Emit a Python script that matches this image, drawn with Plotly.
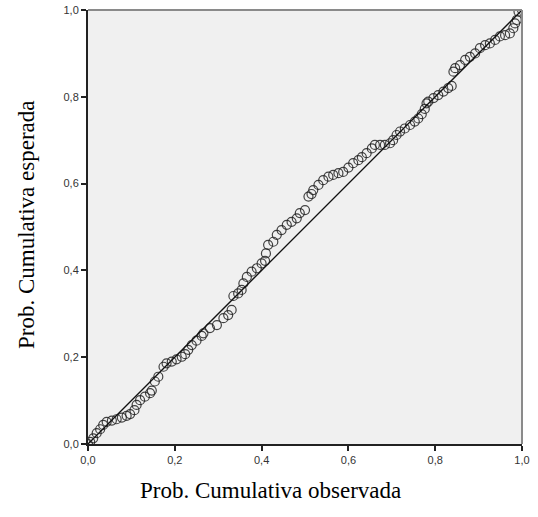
import plotly.graph_objects as go

# P-P plot: observed cumulative probability (x) vs expected cumulative probability (y)
obs = [0.000, 0.005, 0.012, 0.020, 0.028, 0.035, 0.043, 0.055, 0.066, 0.078, 0.089, 0.097,
       0.107, 0.112, 0.120, 0.131, 0.143, 0.147, 0.154, 0.162, 0.174, 0.181, 0.193, 0.204,
       0.216, 0.224, 0.231, 0.239, 0.250, 0.262, 0.266, 0.281, 0.297, 0.312, 0.323, 0.331,
       0.335, 0.346, 0.354, 0.358, 0.366, 0.377, 0.389, 0.400, 0.408, 0.410, 0.415, 0.427,
       0.435, 0.446, 0.458, 0.469, 0.481, 0.488, 0.500, 0.508, 0.515, 0.519, 0.531, 0.542,
       0.554, 0.565, 0.577, 0.588, 0.600, 0.611, 0.623, 0.631, 0.642, 0.654, 0.661, 0.673,
       0.684, 0.696, 0.703, 0.711, 0.719, 0.730, 0.742, 0.753, 0.761, 0.769, 0.776, 0.780,
       0.784, 0.796, 0.807, 0.819, 0.830, 0.838, 0.842, 0.846, 0.857, 0.869, 0.880, 0.892,
       0.903, 0.915, 0.926, 0.938, 0.949, 0.961, 0.972, 0.980, 0.984, 0.988, 0.992, 1.000]
exp = [0.000, 0.005, 0.013, 0.025, 0.034, 0.044, 0.051, 0.054, 0.057, 0.061, 0.065, 0.069,
       0.078, 0.090, 0.101, 0.109, 0.117, 0.123, 0.144, 0.155, 0.178, 0.186, 0.190, 0.195,
       0.201, 0.207, 0.217, 0.228, 0.238, 0.249, 0.255, 0.267, 0.274, 0.290, 0.297, 0.309,
       0.341, 0.347, 0.355, 0.370, 0.385, 0.397, 0.405, 0.416, 0.422, 0.439, 0.459, 0.466,
       0.482, 0.493, 0.505, 0.512, 0.520, 0.532, 0.539, 0.570, 0.576, 0.585, 0.597, 0.608,
       0.616, 0.620, 0.624, 0.627, 0.637, 0.647, 0.654, 0.661, 0.670, 0.681, 0.689, 0.689,
       0.689, 0.693, 0.700, 0.712, 0.720, 0.727, 0.735, 0.743, 0.750, 0.760, 0.772, 0.785,
       0.789, 0.797, 0.804, 0.812, 0.820, 0.825, 0.858, 0.866, 0.873, 0.885, 0.892, 0.900,
       0.912, 0.919, 0.923, 0.931, 0.939, 0.942, 0.946, 0.958, 0.969, 0.977, 0.996, 1.000]

ref_line = [0.0, 1.0]
tick_vals = [0.0, 0.2, 0.4, 0.6, 0.8, 1.0]
tick_text = ["0,0", "0,2", "0,4", "0,6", "0,8", "1,0"]

x_title = "Prob. Cumulativa observada"
y_title = "Prob. Cumulativa esperada"

fig = go.Figure()
fig.add_trace(go.Scatter(
    x=obs, y=exp, mode="markers",
    marker=dict(symbol="circle-open", size=9, color="rgba(35,35,35,0.85)",
                line=dict(width=1.2, color="rgba(35,35,35,0.85)")),
    showlegend=False, hoverinfo="skip"))
fig.add_trace(go.Scatter(
    x=ref_line, y=ref_line, mode="lines",
    line=dict(color="#111111", width=1.3),
    showlegend=False, hoverinfo="skip"))

axis_common = dict(
    range=[0, 1], tickvals=tick_vals, ticktext=tick_text,
    showgrid=False, zeroline=False, showline=True, linecolor="#222222", linewidth=2,
    ticks="outside", ticklen=5, tickwidth=1.5, tickcolor="#222222",
    tickfont=dict(family="Liberation Sans, Arial", size=11, color="#333333"),
    automargin=False, fixedrange=True)

fig.update_layout(
    width=538, height=517,
    margin=dict(l=88, r=16, t=10, b=73, autoexpand=False),
    paper_bgcolor="white", plot_bgcolor="#f0f0f0",
    xaxis=dict(**axis_common),
    yaxis=dict(**axis_common),
    shapes=[
        dict(type="line", xref="paper", yref="paper", x0=0, x1=1, y0=1, y1=1,
             line=dict(color="#8a8a8a", width=2), layer="above"),
        dict(type="line", xref="paper", yref="paper", x0=1, x1=1, y0=0, y1=1,
             line=dict(color="#8a8a8a", width=2), layer="above"),
    ],
    annotations=[
        dict(text=x_title, xref="paper", yref="paper", x=0.5, xshift=(270 - 305),
             y=0, yshift=-(490 - 444),
             xanchor="center", yanchor="middle", showarrow=False,
             font=dict(family="Liberation Serif, Times New Roman", size=23, color="black")),
        dict(text=y_title, xref="paper", yref="paper", x=0, xshift=(26 - 88), y=0.5,
             yshift=2,
             xanchor="center", yanchor="middle", showarrow=False, textangle=-90,
             font=dict(family="Liberation Serif, Times New Roman", size=23, color="black")),
    ],
)

fig.write_html("out.html")
